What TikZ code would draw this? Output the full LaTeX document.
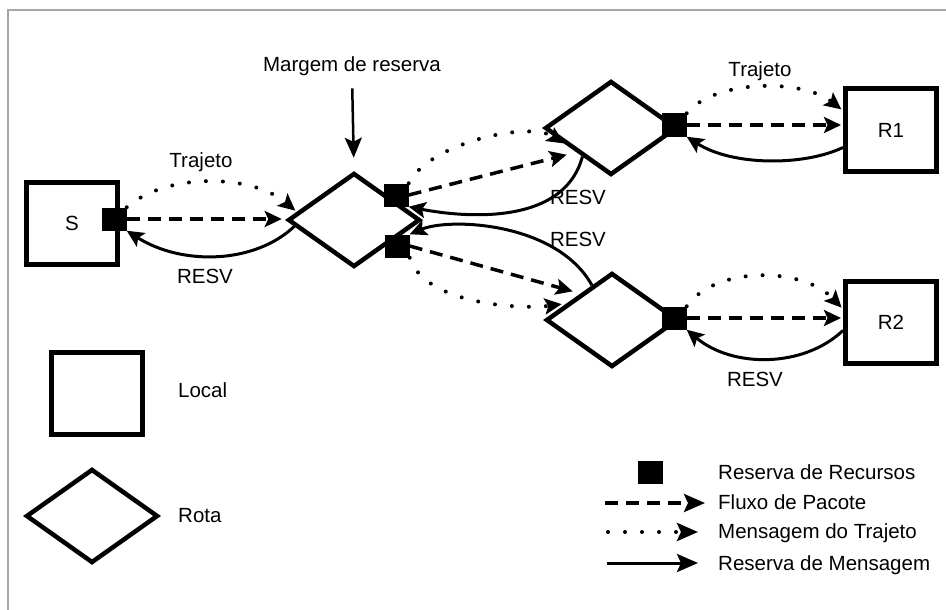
\documentclass[tikz,border=0pt]{standalone}
\usepackage{fontspec}
\setmainfont{Liberation Sans}
\usetikzlibrary{arrows.meta,shapes.geometric,calc}
\begin{document}
\begin{tikzpicture}[x=1pt,y=-1pt,
  font=\fontsize{20.5}{24}\selectfont,
  site/.style={draw=black,line width=5pt,minimum width=91pt,minimum height=82pt,inner sep=0pt,fill=white},
  router/.style={draw=black,line width=4.5pt,diamond,minimum width=132pt,minimum height=94pt,inner sep=0pt,fill=white},
  resv/.style={fill=black,minimum width=25pt,minimum height=23pt,inner sep=0pt},
  tip/.style={-{Stealth[length=17pt,width=16pt,inset=3.5pt]}},
  bigtip/.style={-{Stealth[length=21pt,width=18pt,inset=4pt]}},
  flow/.style={line width=3.5pt,dash pattern=on 13pt off 8pt},
  pathmsg/.style={line width=4pt,dash pattern=on 0pt off 17pt,line cap=round},
  resvmsg/.style={line width=3pt},
  lbl/.style={inner sep=0pt,anchor=base},
  leglbl/.style={inner sep=0pt,anchor=base west},
]
\useasboundingbox (0,0) rectangle (946,610);
% page frame (top and left rules)
\draw[black!35,line width=1.5pt] (8,610) -- (8,10) -- (946,10);

% hosts and routers
\node[site] (S) at (72,223) {S};
\node[site] (R1) at (891,130) {R1};
\node[site] (R2) at (891,322) {R2};
\node[router] (M) at (354,220) {};
\node[router] (D1) at (611,128) {};
\node[router] (D2) at (612,320) {};

% resource reservation points
\node[resv] (sqS) at (114,219) {};
\node[resv] (sqMu) at (396,195) {};
\node[resv] (sqMl) at (397,246) {};
\node[resv] (sq1) at (674,125) {};
\node[resv] (sq2) at (674,318) {};

% S <-> M
\draw[pathmsg,tip,shorten >=2pt] (sqS.north east) .. controls +(40,-35) and +(-45,-38) .. (M.172);
\draw[flow,tip,shorten >=4pt] (sqS.east) -- (sqS.east -| M.west);
\draw[resvmsg,tip] (M.186) .. controls +(-40,38) and +(55,35) .. (sqS.south east);

% M (upper) <-> D1
\draw[pathmsg,tip,shorten >=2pt] (sqMu.north east) .. controls +(20,-40) and +(-37,-24) .. (D1.200);
\draw[flow,tip,shorten >=10pt] (sqMu.east) -- (D1.215);
\draw[resvmsg,tip] (D1.225) .. controls +(-20,75) and +(40,8) .. (sqMu.south east);

% M (lower) <-> D2
\draw[resvmsg,tip] (D2.120) .. controls +(-35,-63) and +(40,-17) .. (sqMl.north east);
\draw[flow,tip,shorten >=8pt] (sqMl.east) -- (D2.140);
\draw[pathmsg,tip,shorten >=5pt] (sqMl.south east) .. controls +(15,47) and +(-45,6) .. (D2.160);

% D1 <-> R1
\draw[pathmsg,tip,shorten >=2pt] (sq1.north east) .. controls +(28,-34) and +(-41,-32) .. (R1.158);
\draw[flow,tip,shorten >=2pt] (sq1.east) -- (sq1.east -| R1.west);
\draw[resvmsg,tip] (R1.200) .. controls +(-40,19) and +(45,29) .. (sq1.south east);

% D2 <-> R2
\draw[pathmsg,tip,shorten >=2pt] (sq2.north east) .. controls +(28,-40) and +(-41,-43) .. (R2.165);
\draw[flow,tip,shorten >=2pt] (sq2.east) -- (sq2.east -| R2.west);
\draw[resvmsg,tip] (R2.190) .. controls +(-40,38) and +(45,38) .. (sq2.south east);

% labels
\node[lbl] (trajS) at (201,167) {Trajeto};
\node[lbl] (resvS) at (205,283) {RESV};
\node[lbl] (trajR1) at (760,77) {Trajeto};
\node[lbl] (resvU) at (578,204) {RESV};
\node[lbl] (resvL) at (578,246) {RESV};
\node[lbl] (resvR2) at (755,386) {RESV};
\node[lbl] (marg) at (352,72) {Margem de reserva};
\draw[line width=2.5pt,-{Stealth[length=20pt,width=17pt,inset=4pt]},shorten <=12pt,shorten >=13pt] (marg.south) -- (M.north);

% legend
\node[site,fill=none] (loc) at (96.5,393) {};
\node[leglbl] (loclbl) at (178,397) {Local};
\node[router,fill=none] (rot) at (92,516) {};
\node[leglbl] (rotlbl) at (178,522) {Rota};

\node[resv] (legsq) at (650,472) {};
\node[leglbl] (t1) at (718,479) {Reserva de Recursos};
\node[leglbl] (t2) at (718,509) {Fluxo de Pacote};
\node[leglbl] (t3) at (718,538) {Mensagem do Trajeto};
\node[leglbl] (t4) at (718,570) {Reserva de Mensagem};
\coordinate (l2) at (605,503);
\coordinate (l3) at (608,532);
\coordinate (l4) at (607,563);
\draw[flow,bigtip,shorten >=13pt] (l2) -- (l2 -| t2.west);
\draw[pathmsg,bigtip,shorten >=20pt] (l3) -- (l3 -| t3.west);
\draw[resvmsg,bigtip,shorten >=20pt] (l4) -- (l4 -| t4.west);
\end{tikzpicture}
\end{document}
